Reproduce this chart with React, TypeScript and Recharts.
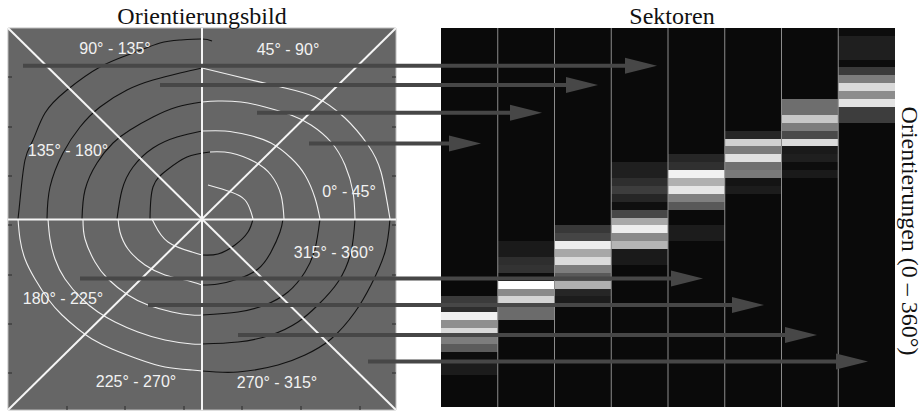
import React from "react";
import {
  ComposedChart,
  BarChart,
  Bar,
  Cell,
  Line,
  Scatter,
  XAxis,
  YAxis,
  ReferenceLine,
  ReferenceArea,
  CartesianGrid,
} from "recharts";

const W = 923;
const H = 411;

// Orientierungsbild, in image pixels (388 x 382, y downwards)
const imgW = 388;
const imgH = 382;
const imgCenter = { x: 194, y: 191.5 };
const xTicks = [59, 117, 176, 234, 293, 352];
const yTicks = [49, 99, 148, 197, 247, 296, 345];

const sectorLabels = [
  { x: 107, y: 20, text: "90° - 135°" },
  { x: 280, y: 21, text: "45° - 90°" },
  { x: 60, y: 122, text: "135° - 180°" },
  { x: 341, y: 163, text: "0° - 45°" },
  { x: 326, y: 224, text: "315° - 360°" },
  { x: 55, y: 270, text: "180° - 225°" },
  { x: 128, y: 353, text: "225° - 270°" },
  { x: 269, y: 354, text: "270° - 315°" },
];

// contour lines of the orientation image, one list per quarter
const upperLeft = [
  [[10, 191], [12, 172], [17, 132], [25, 112], [37, 85], [59, 62], [92, 39], [125, 25], [152, 15], [172, 12], [194, 11], [204, 13]],
  [[39, 191], [42, 159], [55, 125], [72, 99], [92, 79], [119, 62], [145, 52], [172, 45], [194, 40]],
  [[74, 191], [77, 162], [89, 135], [105, 115], [122, 102], [145, 89], [169, 79], [194, 74]],
  [[109, 191], [114, 162], [125, 139], [145, 120], [169, 109], [194, 103]],
  [[142, 191], [145, 159], [159, 142], [179, 129], [202, 124]],
];
const upperRight = [
  [[194, 40], [223, 47], [273, 59], [307, 69], [337, 90], [360, 117], [373, 144], [382, 191]],
  [[194, 74], [210, 73], [233, 74], [257, 79], [283, 87], [303, 97], [323, 114], [337, 137], [345, 164], [347, 191]],
  [[194, 103], [217, 103], [240, 107], [263, 115], [283, 130], [297, 147], [307, 170], [312, 191]],
  [[202, 124], [223, 125], [247, 134], [263, 147], [273, 167], [276, 191]],
  [[200, 157], [223, 164], [237, 172], [243, 184], [245, 191]],
];
const lowerLeft = [
  [[10, 191], [12, 211], [17, 231], [27, 251], [40, 271], [54, 287], [70, 301], [84, 311], [104, 321], [130, 331], [157, 339], [184, 342], [194, 343]],
  [[40, 191], [42, 211], [47, 231], [57, 251], [74, 271], [90, 284], [107, 294], [130, 304], [157, 312], [184, 316], [194, 316]],
  [[75, 191], [77, 211], [87, 234], [100, 251], [120, 267], [140, 277], [164, 284], [184, 287], [194, 287]],
  [[110, 191], [112, 204], [120, 221], [137, 237], [157, 247], [177, 252], [194, 257]],
  [[144, 191], [147, 197], [160, 214], [184, 224], [194, 227]],
];
const lowerRight = [
  [[194, 343], [230, 344], [270, 337], [297, 327], [323, 311], [347, 284], [363, 257], [377, 224], [382, 191]],
  [[194, 316], [230, 314], [263, 307], [290, 294], [310, 277], [330, 254], [343, 224], [347, 191]],
  [[194, 287], [230, 284], [257, 277], [280, 264], [297, 244], [307, 221], [312, 191]],
  [[194, 257], [210, 256], [230, 251], [250, 241], [263, 224], [272, 204], [275, 191]],
  [[194, 227], [210, 226], [227, 217], [240, 204], [245, 191]],
];

// arrows: image row, start column, tip column (same pixel units, extended to the right)
const arrowY = [37.7, 57, 84.7, 115.5, 250.5, 277, 307, 333.5];
const arrowFrom = [15, 152, 249, 301, 72, 140, 230, 360];
const arrowTo = [649, 590, 534, 473, 695, 756, 809, 860];
const overlayW = 887;

// Sektoren: 8 sectors x 48 orientation bins (7.5° each), grey level per bin
const sectors = ["0-45", "45-90", "90-135", "135-180", "180-225", "225-270", "270-315", "315-360"];
const binCount = 48;
const binWidth = 7.5;
const colStart = [34, 27, 25, 17, 16, 13, 9, 0];
const colLevels = [
  [0.23, 0.18, 0.94, 0.56, 0.85, 0.49, 0.36, 0.05, 0.11, 0.11],
  [0.1, 0.1, 0.18, 0.2, 0.05, 1.0, 0.54, 0.83, 0.42, 0.42],
  [0.22, 0.27, 0.93, 0.66, 0.86, 0.49, 0.35, 0.69, 0.15, 0.11],
  [0.12, 0.12, 0.18, 0.24, 0.15, 0.06, 0.28, 0.66, 0.93, 0.54, 0.71, 0.1, 0.1],
  [0.15, 0.19, 0.95, 0.69, 0.9, 0.5, 0.35, 0.04, 0.04, 0.11, 0.11],
  [0.15, 0.82, 0.48, 0.88, 0.44, 0.48, 0.08, 0.11],
  [0.43, 0.43, 0.78, 0.49, 0.29, 0.86, 0.1, 0.12, 0.05, 0.1],
  [0.05, 0.12, 0.12, 0.12, 0.05, 0.23, 0.49, 0.85, 0.55, 0.89, 0.24, 0.24],
];

const toPoints = (arc: number[][]) => arc.map(([x, y]) => ({ x, y }));
const gray = (v: number) => {
  const g = Math.max(10, Math.round(v * 255));
  return `rgb(${g},${g},${g})`;
};
const levelAt = (c: number, k: number) => {
  const i = k - colStart[c];
  return i >= 0 && i < colLevels[c].length ? colLevels[c][i] : 0;
};

const bins = Array.from({ length: binCount }, (_, k) => k);
const heatRows = sectors.map((name) => {
  const row: Record<string, number | string> = { name };
  bins.forEach((k) => (row[`b${k}`] = binWidth));
  return row;
});
const arrowTips = arrowTo.map((x, i) => ({ x, y: arrowY[i] }));

const blank = () => "";
const tickStroke = { stroke: "#2a2a2a", strokeWidth: 1 };
const arrowColor = "#474747";

function SectorLabel(props: any) {
  const { cx, cy, payload } = props;
  return (
    <text
      x={cx}
      y={cy}
      dy={6}
      textAnchor="middle"
      fill="#f2f2f2"
      fontSize={16}
      fontFamily="'Liberation Sans', Arial, sans-serif"
    >
      {payload.text}
    </text>
  );
}

function ArrowHead(props: any) {
  const { cx, cy } = props;
  return (
    <polygon
      points={`${cx},${cy} ${cx - 32},${cy - 8} ${cx - 32},${cy + 8}`}
      fill={arrowColor}
    />
  );
}

function ImagePanel() {
  const arcs = [
    ...upperLeft.map((a) => ({ a, color: "#111111" })),
    ...upperRight.map((a) => ({ a, color: "#f0f0f0" })),
    ...lowerLeft.map((a) => ({ a, color: "#f0f0f0" })),
    ...lowerRight.map((a) => ({ a, color: "#111111" })),
  ];
  return (
    <ComposedChart width={400} height={H} margin={{ top: 28, right: 4, bottom: 1, left: 8 }}>
      <CartesianGrid xAxisId="b" yAxisId="l" horizontal={false} vertical={false} fill="#666666" fillOpacity={1} />
      <XAxis xAxisId="b" type="number" dataKey="x" domain={[0, imgW]} ticks={xTicks} allowDataOverflow mirror tickSize={4} axisLine={false} tickLine={tickStroke} tickFormatter={blank} />
      <XAxis xAxisId="t" orientation="top" type="number" domain={[0, imgW]} ticks={xTicks} allowDataOverflow mirror tickSize={4} axisLine={false} tickLine={tickStroke} tickFormatter={blank} />
      <YAxis yAxisId="l" type="number" dataKey="y" domain={[0, imgH]} reversed ticks={yTicks} allowDataOverflow mirror tickSize={4} axisLine={false} tickLine={tickStroke} tickFormatter={blank} />
      <YAxis yAxisId="r" orientation="right" type="number" domain={[0, imgH]} reversed ticks={yTicks} allowDataOverflow mirror tickSize={4} axisLine={false} tickLine={tickStroke} tickFormatter={blank} />
      {arcs.map((c, i) => (
        <Line
          key={i}
          xAxisId="b"
          yAxisId="l"
          data={toPoints(c.a)}
          dataKey="y"
          type="natural"
          dot={false}
          stroke={c.color}
          strokeWidth={1.1}
          isAnimationActive={false}
        />
      ))}
      <ReferenceLine xAxisId="b" yAxisId="l" x={imgCenter.x} stroke="#f5f5f5" strokeWidth={2} />
      <ReferenceLine xAxisId="b" yAxisId="l" y={imgCenter.y} stroke="#f5f5f5" strokeWidth={2} />
      <ReferenceLine xAxisId="b" yAxisId="l" segment={[{ x: 0, y: 0 }, { x: imgW, y: imgH }]} stroke="#f5f5f5" strokeWidth={2} />
      <ReferenceLine xAxisId="b" yAxisId="l" segment={[{ x: imgW, y: 0 }, { x: 0, y: imgH }]} stroke="#f5f5f5" strokeWidth={2} />
      <Scatter xAxisId="b" yAxisId="l" data={sectorLabels} shape={SectorLabel} isAnimationActive={false} />
      <ReferenceArea xAxisId="b" yAxisId="l" x1={0} x2={imgW} y1={0} y2={imgH} fill="none" stroke="#bdbdbd" strokeWidth={1} />
    </ComposedChart>
  );
}

function SectorPanel() {
  return (
    <BarChart
      width={W}
      height={H}
      data={heatRows}
      margin={{ top: 28, right: 28, bottom: 4, left: 441 }}
      barCategoryGap={0}
      barGap={0}
    >
      <CartesianGrid horizontal={false} vertical={false} fill="#0a0a0a" fillOpacity={1} stroke="#777777" />
      <XAxis type="category" dataKey="name" hide />
      <YAxis type="number" domain={[0, binCount * binWidth]} reversed hide />
      {bins.map((k) => (
        <Bar key={k} dataKey={`b${k}`} stackId="s" isAnimationActive={false}>
          {heatRows.map((_, c) => (
            <Cell key={c} fill={gray(levelAt(c, k))} shapeRendering="crispEdges" />
          ))}
        </Bar>
      ))}
      {sectors.slice(1).map((name) => (
        <ReferenceLine key={name} x={name} position="start" stroke="#8c8c8c" strokeWidth={1} />
      ))}
    </BarChart>
  );
}

function ArrowLayer() {
  return (
    <ComposedChart width={W} height={H} margin={{ top: 28, right: W - 8 - overlayW, bottom: 1, left: 8 }}>
      <XAxis type="number" dataKey="x" domain={[0, overlayW]} hide />
      <YAxis type="number" dataKey="y" domain={[0, imgH]} reversed hide />
      {arrowY.map((y, i) => (
        <ReferenceLine
          key={i}
          segment={[{ x: arrowFrom[i], y }, { x: arrowTo[i] - 24, y }]}
          stroke={arrowColor}
          strokeWidth={4}
        />
      ))}
      <Scatter data={arrowTips} shape={ArrowHead} isAnimationActive={false} />
    </ComposedChart>
  );
}

export default function App() {
  const layer: React.CSSProperties = { position: "absolute", left: 0, top: 0 };
  const serif = "'Liberation Serif', 'Times New Roman', serif";
  return (
    <div style={{ position: "absolute", left: 0, top: 0, width: W, height: H, background: "#fff" }}>
      <div style={layer}>
        <SectorPanel />
      </div>
      <div style={layer}>
        <ImagePanel />
      </div>
      <div style={layer}>
        <ArrowLayer />
      </div>
      <svg width={W} height={H} style={layer}>
        <text x={202} y={24} textAnchor="middle" fontFamily={serif} fontSize={24} fill="#111">
          Orientierungsbild
        </text>
        <text x={672} y={24} textAnchor="middle" fontFamily={serif} fontSize={24} fill="#111">
          Sektoren
        </text>
        <text
          transform="translate(902,231) rotate(90)"
          textAnchor="middle"
          fontFamily={serif}
          fontSize={24}
          fill="#111"
        >
          Orientierungen (0 – 360°)
        </text>
      </svg>
    </div>
  );
}
